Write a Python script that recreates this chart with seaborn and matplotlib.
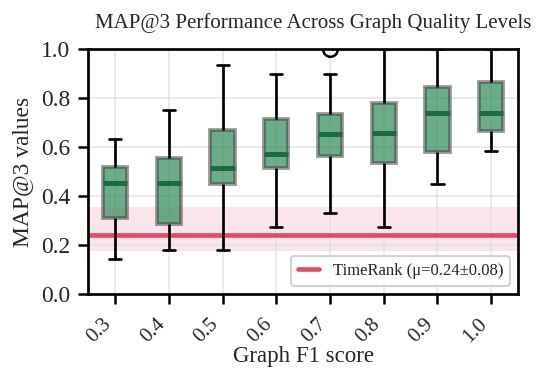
import numpy as np
import pandas as pd
import seaborn as sns
import matplotlib.pyplot as plt

# five-number summaries
f1_scores = ["0.3", "0.4", "0.5", "0.6", "0.7", "0.8", "0.9", "1.0"]
whisker_lo = [0.143, 0.182, 0.182, 0.275, 0.333, 0.275, 0.448, 0.582]
q1 = [0.310, 0.286, 0.449, 0.516, 0.563, 0.533, 0.581, 0.665]
median = [0.453, 0.454, 0.513, 0.570, 0.654, 0.656, 0.741, 0.741]
q3 = [0.520, 0.555, 0.669, 0.713, 0.733, 0.781, 0.844, 0.867]
whisker_hi = [0.633, 0.752, 0.937, 0.898, 0.897, 1.0, 1.0, 1.0]
outlier_x = ["0.7"]
outlier_y = [1.0]
y_ticks = [0.0, 0.2, 0.4, 0.6, 0.8, 1.0]

timerank_mean = 0.24
timerank_std = 0.08
band_lo, band_hi = 0.175, 0.355

sns.set_style("whitegrid")
plt.rcParams['font.family'] = ['Liberation Serif', 'DejaVu Serif']

rows = []
for i, f in enumerate(f1_scores):
    for v in [whisker_lo[i], q1[i], median[i], q3[i], whisker_hi[i]]:
        rows.append({"f1": f, "map3": v})
df = pd.DataFrame(rows)

fig, ax = plt.subplots(figsize=(538 / 150, 369 / 150), dpi=150)

ax.axhspan(band_lo, band_hi, color='#f7a3b7', alpha=0.28, lw=0, zorder=0)
ax.axhline(timerank_mean, color='#e0365a', lw=2.2, alpha=0.9, zorder=1,
           label=f'TimeRank (μ={timerank_mean:.2f}±{timerank_std:.2f})')

green = (46 / 255, 139 / 255, 87 / 255)
sns.boxplot(data=df, x="f1", y="map3", order=f1_scores, ax=ax, width=0.45,
            color='seagreen', showfliers=False, zorder=3,
            boxprops=dict(facecolor=green + (0.7,), edgecolor=(0.25, 0.25, 0.25, 0.55), lw=1.8),
            medianprops=dict(color='#1b6b3e', lw=2.4),
            whiskerprops=dict(color='black', lw=1.3),
            capprops=dict(color='black', lw=1.3))

# the one flier
pos = [f1_scores.index(x) for x in outlier_x]
ax.plot(pos, outlier_y, 'o', mfc='none', mec='black', ms=7, mew=1.2, zorder=4)

ax.set_ylim(0, 1)
ax.set_yticks(y_ticks)
ax.set_yticklabels([f'{t:.1f}' for t in y_ticks])
ax.set_xlim(-0.5, len(f1_scores) - 0.5)
ax.set_title('MAP@3 Performance Across Graph Quality Levels', fontsize=10,
             pad=10, x=0.523)
ax.set_xlabel('Graph F1 score', fontsize=11)
ax.xaxis.set_label_coords(0.5, -0.212)
ax.set_ylabel('MAP@3 values', fontsize=11.3, labelpad=4)
ax.tick_params(axis='both', labelsize=11.3, length=5, width=1.2, color='black',
               direction='out', bottom=True, left=True, pad=3.5)
ax.tick_params(axis='x', labelsize=10, pad=5)
plt.setp(ax.get_xticklabels(), rotation=45, ha='right')
ax.grid(True, color='#dddddd', lw=0.8, alpha=0.7)
for s in ax.spines.values():
    s.set_color('black')
    s.set_linewidth(1.3)
ax.legend(loc='lower right', fontsize=8, frameon=True, fancybox=True,
          shadow=False, framealpha=0.9, edgecolor='#cccccc', handlelength=1.3)

fig.subplots_adjust(left=0.164, right=0.963, top=0.867, bottom=0.203)
fig.savefig('out.png', dpi=150)
